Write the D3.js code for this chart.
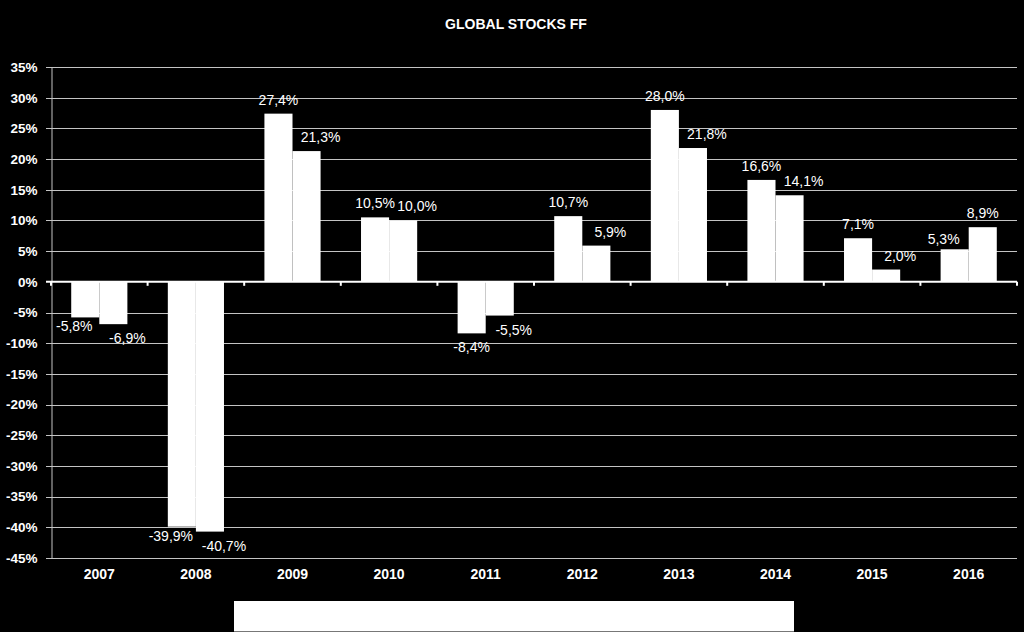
<!DOCTYPE html>
<html><head><meta charset="utf-8">
<script src="https://cdn.jsdelivr.net/npm/d3@7"></script>
<style>
html,body{margin:0;padding:0;background:#000;}
svg{display:block;}
text{font-family:"Liberation Sans",Arial,sans-serif;fill:#fff;}
</style></head>
<body>
<svg id="c" width="1024" height="632"></svg>
<script>
const title = "GLOBAL STOCKS FF";
const years = ["2007","2008","2009","2010","2011","2012","2013","2014","2015","2016"];
const seriesA = [-5.8, -39.9, 27.4, 10.5, -8.4, 10.7, 28.0, 16.6, 7.1, 5.3];
const seriesB = [-6.9, -40.7, 21.3, 10.0, -5.5, 5.9, 21.8, 14.1, 2.0, 8.9];
const yTicks = [35,30,25,20,15,10,5,0,-5,-10,-15,-20,-25,-30,-35,-40,-45];

(function(){
const svg = d3.select("#c");
svg.append("rect").attr("width",1024).attr("height",632).attr("fill","#000");

const pLeft = 51, pRight = 1017, pTop = 67, pBottom = 558;
const y = d3.scaleLinear().domain([-45,35]).range([pBottom, pTop]);
const x = d3.scaleBand().domain(years).range([pLeft, pRight]).paddingInner(0).paddingOuter(0);
const bw = x.bandwidth();
const inner = d3.scaleBand().domain(["A","B"]).range([0, bw]).paddingOuter(0.72).paddingInner(0);

svg.append("text").attr("x",516).attr("y",29).attr("text-anchor","middle")
  .attr("font-size",14).attr("font-weight","bold").text(title);

// gridlines
svg.append("g").selectAll("line").data(yTicks.filter(d=>d!==0)).join("line")
  .attr("x1",pLeft-5).attr("x2",pRight).attr("y1",d=>Math.round(y(d))+0.5).attr("y2",d=>Math.round(y(d))+0.5)
  .attr("stroke","#c4c4c4").attr("stroke-width",1);

// y axis
const yAxis = d3.axisLeft(y).tickValues(yTicks).tickFormat(d=>d+"%").tickSize(0).tickPadding(14);
const gy = svg.append("g").attr("transform",`translate(${pLeft+0.5},0)`).call(yAxis);
gy.select(".domain").attr("stroke","#c4c4c4");
gy.selectAll("text").attr("font-size",13.5).attr("font-weight","bold").attr("fill","#fff");

// bars
const data = [];
years.forEach((yr,i)=>{
  data.push({yr,k:"A",v:seriesA[i],o:seriesB[i]});
  data.push({yr,k:"B",v:seriesB[i],o:seriesA[i]});
});
svg.append("g").selectAll("rect").data(data).join("rect")
  .attr("x",d=>x(d.yr)+inner(d.k))
  .attr("width",inner.bandwidth())
  .attr("y",d=>y(Math.max(0,d.v)))
  .attr("height",d=>Math.abs(y(d.v)-y(0)))
  .attr("fill","#fff");

// zero axis
svg.append("line").attr("x1",pLeft-5).attr("x2",pRight).attr("y1",y(0)).attr("y2",y(0))
  .attr("stroke","#fff").attr("stroke-width",2);
svg.append("g").selectAll("line").data(years.concat(["end"])).join("line")
  .attr("x1",d=>d==="end"?pRight:x(d)).attr("x2",d=>d==="end"?pRight:x(d))
  .attr("y1",y(0)).attr("y2",y(0)+4).attr("stroke","#fff").attr("stroke-width",2);

// year labels
svg.append("g").selectAll("text").data(years).join("text")
  .attr("x",d=>x(d)+bw/2).attr("y",579).attr("text-anchor","middle")
  .attr("font-size",14).attr("font-weight","bold").text(d=>d);

// data labels (shorter bar's label nudged outward to avoid overlap)
const fmt = v => v.toFixed(1).replace(".",",")+"%";
const shiftA = d => d.k==="A" && Math.abs(d.v) < Math.abs(d.o);
const shiftB = d => d.k==="B" && !(d.v>0 && d.v>d.o);
const dx = d => shiftA(d) ? -11 : (shiftB(d) ? 14 : 0);
svg.append("g").selectAll("text").data(data).join("text")
  .attr("x",d=>x(d.yr)+inner(d.k)+inner.bandwidth()/2 + dx(d))
  .attr("y",d=>d.v>=0 ? y(d.v)-(shiftA(d)?5:9) : y(d.v)+(shiftA(d)?14:19))
  .attr("text-anchor","middle").attr("font-size",14).text(d=>fmt(d.v));

// legend box
svg.append("rect").attr("x",234).attr("y",601).attr("width",560).attr("height",30)
  .attr("fill","#fff");
svg.append("line").attr("x1",234).attr("x2",794).attr("y1",631.5).attr("y2",631.5)
  .attr("stroke","#777").attr("stroke-width",1);
})();
</script>
</body></html>
